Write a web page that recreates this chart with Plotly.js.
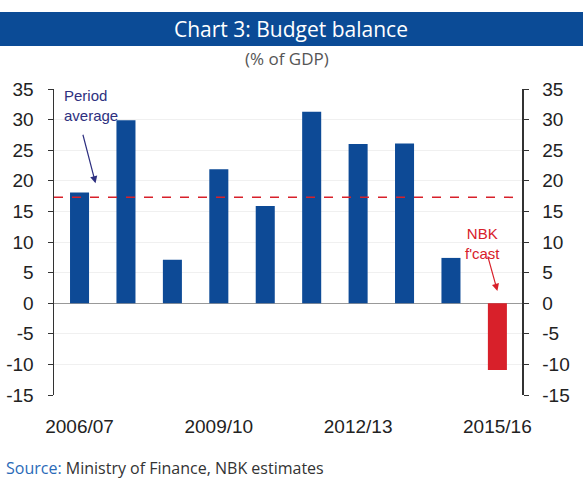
<!DOCTYPE html>
<html><head><meta charset="utf-8">
<script src="https://cdn.plot.ly/plotly-3.0.1.min.js"></script>
<style>html,body{margin:0;padding:0;background:#fff;}#chart{width:583px;height:489px;}</style>
</head><body><div id="chart"></div>
<script>
var years = ["2006/07","2007/08","2008/09","2009/10","2010/11","2011/12","2012/13","2013/14","2014/15","2015/16"];
var balance = [18.1, 29.9, 7.1, 21.9, 15.9, 31.3, 26.0, 26.1, 7.4, -10.9];
var forecastFlag = [0,0,0,0,0,0,0,0,0,1];
var periodAverage = 17.3;
var tickLabels = ["2006/07","2009/10","2012/13","2015/16"];
var yTicks = [-15,-10,-5,0,5,10,15,20,25,30,35];
var yTickText = ["-15","-10","-5","0","5","10","15","20","25","30","35"];

var blue = "#0d4a96", red = "#d8202a";
var colors = forecastFlag.map(function(f){return f ? red : blue;});

var L = 54, R = 522, T = 89, B = 395, W = 583, H = 489;
function px(x){return (x - L)/(R - L);}
function py(y){return (B - y)/(B - T);}

var tickFont = {family:"Liberation Sans, Arial, sans-serif", size:19, color:"#222"};
var yaxisBase = {range:[-15,35], tickmode:"array", tickvals:yTicks, ticktext:yTickText, ticks:"outside", ticklen:5, tickcolor:"#333",
  showline:true, linecolor:"#333", linewidth:1.5, tickfont:tickFont, fixedrange:true};

var data = [
  {type:"bar", x:years, y:balance, marker:{color:colors}, width:0.41, hoverinfo:"x+y", showlegend:false},
  {type:"scatter", x:years, y:balance, yaxis:"y2", mode:"markers", marker:{opacity:0}, hoverinfo:"skip", showlegend:false}
];

var layout = {
  width:W, height:H,
  margin:{l:L, r:W-R, t:T, b:H-B},
  paper_bgcolor:"#fff", plot_bgcolor:"#fff",
  font:{family:"Liberation Sans, Arial, sans-serif"},
  xaxis:{type:"category", tickmode:"array", tickvals:tickLabels, ticktext:tickLabels, ticks:"",
    ticklabelstandoff:18, showline:false, showgrid:false, tickfont:tickFont, range:[-0.55,9.53], fixedrange:true},
  yaxis:Object.assign({}, yaxisBase, {side:"left", ticklabelstandoff:10, showgrid:true, gridcolor:"#f0f0f0", zeroline:true, zerolinecolor:"#999", zerolinewidth:1}),
  yaxis2:Object.assign({}, yaxisBase, {side:"right", ticklabelstandoff:10, overlaying:"y", showgrid:false, zeroline:false}),
  shapes:[
    {type:"rect", xref:"paper", yref:"paper", x0:px(0), x1:px(W), y0:py(46), y1:py(12), fillcolor:"#0b4b96", line:{width:0}, layer:"below"},
    {type:"line", xref:"paper", yref:"y", x0:0, x1:1, y0:periodAverage, y1:periodAverage, line:{color:red, width:1.5, dash:"dash"}}
  ],
  annotations:[
    {xref:"paper", yref:"paper", x:px(291), y:py(29), text:"Chart 3: Budget balance", showarrow:false,
      font:{family:"Open Sans, sans-serif", size:21, color:"#fff"}, xanchor:"center", yanchor:"middle"},
    {xref:"paper", yref:"paper", x:px(287), y:py(59), text:"(% of GDP)", showarrow:false,
      font:{family:"Open Sans, sans-serif", size:17, color:"#555"}, xanchor:"center", yanchor:"middle"},
    {xref:"paper", yref:"paper", x:px(4), y:py(468), text:"<span style='color:#2a6ab8'>Source:</span> Ministry of Finance, NBK estimates", showarrow:false,
      font:{family:"Open Sans, sans-serif", size:16, color:"#333"}, xanchor:"left", yanchor:"middle"},
    {xref:"paper", yref:"paper", x:px(62), y:py(105), text:"Period<br>average", showarrow:false, align:"left",
      font:{family:"Liberation Sans, Arial, sans-serif", size:15, color:"#2e3080"}, xanchor:"left", yanchor:"middle"},
    {xref:"x", yref:"y", x:"2006/07", y:19.6, ax:-13, ay:-50, text:"", showarrow:true,
      arrowhead:2, arrowsize:1.2, arrowwidth:1.2, arrowcolor:"#2e3080", xshift:16},
    {xref:"paper", yref:"paper", x:px(482), y:py(243), text:"NBK<br>f'cast", showarrow:false, align:"center",
      font:{family:"Liberation Sans, Arial, sans-serif", size:15, color:"#d8202a"}, xanchor:"center", yanchor:"middle"},
    {xref:"x", yref:"y", x:"2015/16", y:2.0, ax:-10, ay:-36, text:"", showarrow:true,
      arrowhead:2, arrowsize:1.2, arrowwidth:1.2, arrowcolor:"#d8202a"}
  ]
};

Plotly.newPlot("chart", data, layout, {displayModeBar:false, staticPlot:true});
</script>
</body></html>
